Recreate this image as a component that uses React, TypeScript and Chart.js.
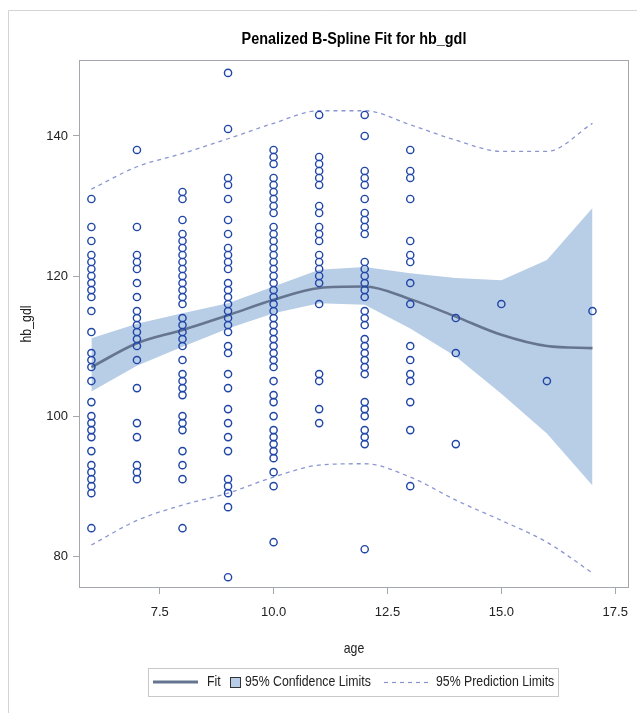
import React, { useEffect, useRef } from "react";
import { Chart, registerables } from "chart.js";

Chart.register(...registerables);

// ---- data ----
const ages = [6, 7, 8, 9, 10, 11, 12, 13, 14, 15, 16, 17];
const fitValues = [107.0, 110.4, 112.3, 114.4, 116.6, 118.3, 118.5, 116.7, 114.2, 111.6, 110.0, 109.7];
const clmLower = [103.5, 107.2, 109.9, 112.5, 114.7, 116.1, 115.9, 112.5, 108.5, 103.2, 97.5, 90.1];
const clmUpper = [111.1, 113.2, 114.7, 116.1, 118.5, 120.9, 121.3, 120.4, 119.7, 119.4, 122.3, 129.7];
const predLower = [81.6, 85.1, 87.3, 89.0, 91.3, 93.0, 93.2, 91.3, 88.0, 85.1, 82.0, 77.6];
const predUpper = [132.4, 135.6, 137.5, 139.6, 141.8, 143.6, 143.6, 141.6, 139.4, 137.8, 137.8, 141.8];

const hbAge6 = [131, 127, 125, 123, 122, 121, 120, 119, 118, 117, 115, 112, 109, 108, 107, 105, 102, 100, 99, 98, 97, 95, 93, 92, 91, 90, 89, 84];
const hbAge7 = [138, 127, 123, 122, 121, 119, 117, 115, 114, 113, 112, 111, 110, 108, 104, 99, 97, 93, 92, 91];
const hbAge8 = [132, 131, 128, 126, 125, 124, 123, 122, 121, 120, 119, 118, 117, 116, 114, 113, 112, 111, 110, 108, 106, 105, 104, 103, 100, 99, 98, 95, 93, 91, 84];
const hbAge9 = [149, 141, 134, 133, 131, 128, 126, 124, 123, 122, 121, 119, 118, 117, 116, 115, 114, 113, 112, 110, 109, 106, 104, 101, 99, 97, 95, 91, 90, 89, 87, 77];
const hbAge10 = [138, 137, 136, 134, 133, 132, 131, 130, 129, 127, 126, 125, 124, 123, 122, 121, 120, 119, 118, 117, 116, 115, 114, 113, 112, 111, 110, 109, 108, 107, 105, 103, 102, 100, 98, 97, 96, 95, 94, 92, 90, 82];
const hbAge11 = [143, 137, 136, 135, 134, 133, 130, 129, 127, 126, 125, 123, 122, 121, 120, 119, 116, 106, 105, 101, 99];
const hbAge12 = [143, 140, 135, 134, 133, 131, 129, 128, 127, 126, 122, 121, 120, 119, 118, 117, 115, 114, 113, 111, 110, 109, 108, 107, 106, 102, 101, 100, 98, 97, 96, 81];
const hbAge13 = [138, 135, 134, 131, 125, 123, 122, 119, 116, 110, 108, 106, 105, 102, 98, 90];
const hbAge14 = [114, 109, 96];
const hbAge15 = [116];
const hbAge16 = [105];
const hbAge17 = [115];

const hbByAge = [hbAge6, hbAge7, hbAge8, hbAge9, hbAge10, hbAge11, hbAge12, hbAge13, hbAge14, hbAge15, hbAge16, hbAge17];

const xTicks = [7.5, 10, 12.5, 15, 17.5];
const yTicks = [80, 100, 120, 140];

const titleText = "Penalized B-Spline Fit for hb_gdl";
const xTitle = "age";
const yTitle = "hb_gdl";
const legendLabels = ["Fit", "95% Confidence Limits", "95% Prediction Limits"];

// ---- styles ----
const FONT = "'Liberation Sans', Arial, sans-serif";
const NARROW = 0.82;
const MARKER = "#1f45a6";
const FIT = "#66758f";
const BAND = "#b8cde6";
const PRED = "#8a96d2";
const FRAME = "#a4a8ad";
const TEXT = "#222222";

const toPts = (ys: number[]) => ys.map((y, i) => ({ x: ages[i], y }));

function narrowText(ctx: CanvasRenderingContext2D, text: string, x: number, y: number, align: CanvasTextAlign, k = NARROW) {
  ctx.save();
  ctx.translate(x, y);
  ctx.scale(k, 1);
  ctx.textAlign = align;
  ctx.textBaseline = "middle";
  ctx.fillText(text, 0, 0);
  ctx.restore();
}

const decor = {
  id: "decor",
  beforeDraw(chart: any) {
    const ctx = chart.ctx;
    ctx.save();
    ctx.fillStyle = "#ffffff";
    ctx.fillRect(0, 0, chart.width, chart.height);
    ctx.strokeStyle = "#d4d4d4";
    ctx.lineWidth = 1;
    ctx.beginPath();
    ctx.moveTo(8.5, chart.height);
    ctx.lineTo(8.5, 10.5);
    ctx.lineTo(chart.width, 10.5);
    ctx.stroke();
    ctx.restore();
  },
  afterDraw(chart: any) {
    const ctx = chart.ctx;
    const a = chart.chartArea;
    ctx.save();
    // frame
    ctx.strokeStyle = FRAME;
    ctx.lineWidth = 1;
    ctx.strokeRect(Math.round(a.left) - 0.5, Math.round(a.top) - 0.5, Math.round(a.right - a.left) + 1, Math.round(a.bottom - a.top) + 1);
    // title
    const cx = (a.left + a.right) / 2;
    ctx.fillStyle = "#000";
    ctx.font = `bold 16px ${FONT}`;
    narrowText(ctx, titleText, cx, 40, "center", 0.9);
    // axis titles
    ctx.fillStyle = TEXT;
    ctx.font = `15px ${FONT}`;
    narrowText(ctx, xTitle, cx, 649, "center");
    ctx.save();
    ctx.translate(27, (a.top + a.bottom) / 2);
    ctx.rotate(-Math.PI / 2);
    narrowText(ctx, yTitle, 0, 0, "center");
    ctx.restore();
    // legend
    const ly = 682;
    ctx.strokeStyle = "#c9c9c9";
    ctx.lineWidth = 1;
    ctx.strokeRect(148.5, 668.5, 410, 28);
    ctx.strokeStyle = FIT;
    ctx.lineWidth = 3;
    ctx.beginPath();
    ctx.moveTo(153, ly);
    ctx.lineTo(198, ly);
    ctx.stroke();
    ctx.fillStyle = TEXT;
    ctx.font = `15px ${FONT}`;
    narrowText(ctx, legendLabels[0], 207, ly, "left");
    ctx.fillStyle = BAND;
    ctx.fillRect(230, 677, 10, 10);
    ctx.strokeStyle = "#333";
    ctx.lineWidth = 1;
    ctx.strokeRect(230.5, 677.5, 10, 10);
    ctx.fillStyle = TEXT;
    narrowText(ctx, legendLabels[1], 245, ly, "left");
    ctx.strokeStyle = PRED;
    ctx.lineWidth = 1.2;
    ctx.setLineDash([4, 4]);
    ctx.beginPath();
    ctx.moveTo(384, ly + 0.5);
    ctx.lineTo(428, ly + 0.5);
    ctx.stroke();
    ctx.setLineDash([]);
    narrowText(ctx, legendLabels[2], 436, ly, "left");
    ctx.restore();
  },
};

export default function App() {
  const ref = useRef<HTMLCanvasElement | null>(null);
  useEffect(() => {
    if (!ref.current) return;
    const scatterPts: { x: number; y: number }[] = [];
    hbByAge.forEach((list, i) => list.forEach((v) => scatterPts.push({ x: ages[i], y: v })));
    const chart = new Chart(ref.current, {
      type: "scatter",
      data: {
        datasets: [
          {
            label: "hb_gdl",
            data: scatterPts,
            showLine: false,
            pointStyle: "circle",
            pointRadius: 3.6,
            pointBorderWidth: 1.4,
            pointBorderColor: MARKER,
            pointBackgroundColor: "rgba(0,0,0,0)",
          },
          {
            label: "Fit",
            data: toPts(fitValues),
            showLine: true,
            borderColor: FIT,
            borderWidth: 2.6,
            pointRadius: 0,
            tension: 0.2,
            cubicInterpolationMode: "monotone",
          },
          {
            label: "Upper Prediction",
            data: toPts(predUpper),
            showLine: true,
            borderColor: PRED,
            borderWidth: 1.3,
            borderDash: [4, 4],
            pointRadius: 0,
            cubicInterpolationMode: "monotone",
          },
          {
            label: "Lower Prediction",
            data: toPts(predLower),
            showLine: true,
            borderColor: PRED,
            borderWidth: 1.3,
            borderDash: [4, 4],
            pointRadius: 0,
            cubicInterpolationMode: "monotone",
          },
          {
            label: "Upper CL",
            data: toPts(clmUpper),
            showLine: true,
            borderWidth: 0,
            borderColor: "rgba(0,0,0,0)",
            backgroundColor: BAND,
            pointRadius: 0,
            fill: "+1",
            tension: 0,
          },
          {
            label: "Lower CL",
            data: toPts(clmLower),
            showLine: true,
            borderWidth: 0,
            borderColor: "rgba(0,0,0,0)",
            pointRadius: 0,
            fill: false,
            tension: 0,
          },
        ],
      },
      options: {
        animation: false,
        responsive: false,
        devicePixelRatio: 1,
        layout: { padding: { left: 0, top: 61, right: 9, bottom: 96 } },
        plugins: {
          legend: { display: false },
          title: { display: false },
          tooltip: { enabled: false },
        },
        scales: {
          x: {
            type: "linear",
            min: 5.75,
            max: 17.78,
            afterBuildTicks: (s: any) => {
              s.ticks = xTicks.map((v) => ({ value: v }));
            },
            afterFit: (s: any) => {
              s.height = 30;
              s.paddingRight = 0;
              s.paddingLeft = 0;
            },
            ticks: {
              color: TEXT,
              font: { family: FONT, size: 13 },
              padding: 11,
              maxRotation: 0,
              autoSkip: false,
              callback: (v: any) => Number(v).toFixed(1),
            },
            grid: { display: true, drawOnChartArea: false, drawTicks: true, tickLength: 7, color: FRAME },
            border: { display: false },
          },
          y: {
            type: "linear",
            min: 75.6,
            max: 150.7,
            afterBuildTicks: (s: any) => {
              s.ticks = yTicks.map((v) => ({ value: v }));
            },
            afterFit: (s: any) => {
              s.width = 80;
              s.paddingTop = 0;
              s.paddingBottom = 0;
            },
            ticks: {
              color: TEXT,
              font: { family: FONT, size: 13 },
              padding: 5,
              autoSkip: false,
              callback: (v: any) => String(v),
            },
            grid: { display: true, drawOnChartArea: false, drawTicks: true, tickLength: 7, color: FRAME },
            border: { display: false },
          },
        },
      },
      plugins: [decor],
    } as any);
    return () => chart.destroy();
  }, []);
  return (
    <div style={{ position: "fixed", left: 0, top: 0, width: 637, height: 713, background: "#fff" }}>
      <canvas ref={ref} width={637} height={713} style={{ display: "block", width: 637, height: 713 }} />
    </div>
  );
}
